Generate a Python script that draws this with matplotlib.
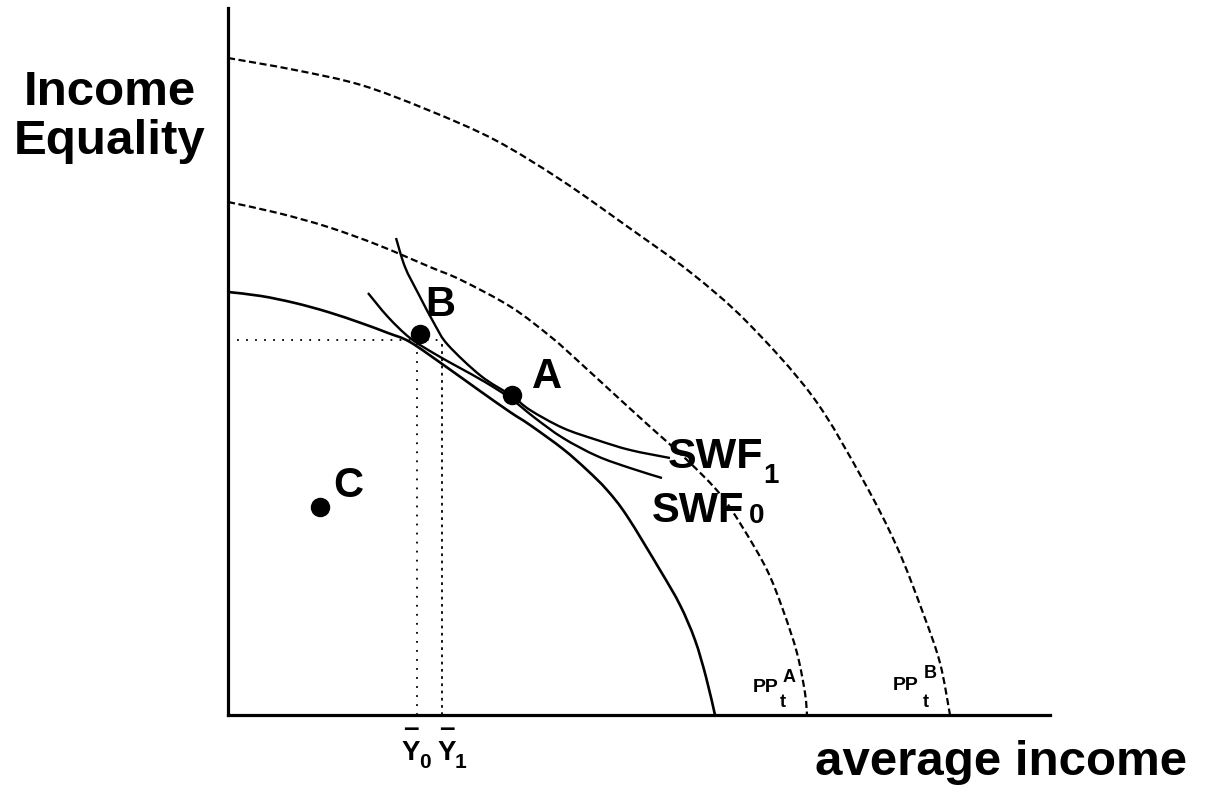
import numpy as np
import matplotlib
matplotlib.use('Agg')
import matplotlib.pyplot as plt
from matplotlib.path import Path
from matplotlib.patches import PathPatch

plt.rcParams['font.family'] = ['Liberation Sans', 'DejaVu Sans']
plt.rcParams['font.weight'] = 'bold'

# Curves (x = average income, y = income equality)
ppf_now_x = [0, 0.33, 0.67, 1.00, 1.33, 1.60, 1.82, 2.17, 2.52, 2.82, 3.02, 3.35, 3.59, 3.79, 3.99, 4.32, 4.52, 4.67, 4.78, 4.87]
ppf_now_y = [4.23, 4.19, 4.12, 4.03, 3.92, 3.82, 3.73, 3.49, 3.24, 3.03, 2.90, 2.66, 2.45, 2.25, 1.99, 1.45, 1.10, 0.75, 0.38, 0.0]

ppf_a_x = [0, 0.50, 1.00, 1.50, 2.02, 2.33, 2.83, 3.23, 3.49, 3.85, 4.19, 4.59, 4.92, 5.15, 5.39, 5.55, 5.69, 5.77, 5.79]
ppf_a_y = [5.13, 5.02, 4.88, 4.70, 4.48, 4.35, 4.08, 3.78, 3.55, 3.22, 2.91, 2.55, 2.21, 1.87, 1.45, 1.05, 0.62, 0.22, 0.0]

ppf_b_x = [0, 0.67, 1.33, 2.00, 2.67, 3.33, 4.00, 4.62, 5.19, 5.85, 6.35, 6.69, 6.95, 7.12, 7.22]
ppf_b_y = [6.57, 6.45, 6.30, 6.05, 5.75, 5.35, 4.88, 4.43, 3.93, 3.18, 2.35, 1.68, 1.02, 0.52, 0.0]

swf1_x = [1.68, 1.77, 1.90, 2.07, 2.20, 2.53, 2.84, 3.02, 3.35, 3.69, 4.02, 4.42]
swf1_y = [4.77, 4.48, 4.22, 3.90, 3.70, 3.39, 3.19, 3.05, 2.87, 2.75, 2.65, 2.57]

swf0_x = [1.40, 1.60, 1.82, 2.07, 2.32, 2.57, 2.82, 3.07, 3.35, 3.69, 4.02, 4.34]
swf0_y = [4.22, 3.98, 3.77, 3.61, 3.47, 3.33, 3.17, 2.97, 2.77, 2.59, 2.47, 2.37]

# Points
pt_names = ['B', 'A', 'C']
pt_x = [1.92, 2.84, 0.92]
pt_y = [3.81, 3.20, 2.08]

# Income levels and equality level at B
y0_income = 1.89
y1_income = 2.14
eq_level = 3.75


def smooth_curve(ax, xs, ys, **kw):
    # draw the read points as one smooth stroke (Catmull-Rom as Bezier)
    p = np.column_stack([xs, ys])
    p = np.vstack([p[0], p, p[-1]])
    verts = [p[1]]
    codes = [Path.MOVETO]
    for i in range(1, len(p) - 2):
        c1 = p[i] + (p[i + 1] - p[i - 1]) / 6
        c2 = p[i + 1] - (p[i + 2] - p[i]) / 6
        verts += [c1, c2, p[i + 1]]
        codes += [Path.CURVE4] * 3
    ax.add_patch(PathPatch(Path(verts, codes), fill=False, edgecolor='black', **kw))


fig = plt.figure(figsize=(12.08, 7.95), dpi=100)
ax = fig.add_axes([228 / 1208, 80 / 795, 822 / 1208, 707 / 795])
ax.set_xlim(0, 8.22)
ax.set_ylim(0, 7.07)
for s in ['top', 'right']:
    ax.spines[s].set_visible(False)
for s in ['left', 'bottom']:
    ax.spines[s].set_linewidth(2.3)
ax.set_xticks([])
ax.set_yticks([])

dash = (0, (3.2, 1.6))
smooth_curve(ax, ppf_now_x, ppf_now_y, lw=1.9)
smooth_curve(ax, ppf_a_x, ppf_a_y, lw=1.6, linestyle=dash)
smooth_curve(ax, ppf_b_x, ppf_b_y, lw=1.6, linestyle=dash)
smooth_curve(ax, swf1_x, swf1_y, lw=1.7)
smooth_curve(ax, swf0_x, swf0_y, lw=1.7)

# dotted guides
ax.plot([0, y1_income], [eq_level, eq_level], color='black', lw=1.3, linestyle=(0, (1, 4)))
ax.plot([y0_income, y0_income], [0, eq_level], color='black', lw=1.3, linestyle=(0, (1, 4)))
ax.plot([y1_income, y1_income], [0, eq_level], color='black', lw=1.3, linestyle=(0, (1.5, 2.5)))

ax.plot(pt_x, pt_y, 'o', color='black', markersize=13, zorder=5)

# point labels
ax.text(2.12, 4.10, 'B', fontsize=30, ha='center', va='center')
ax.text(3.19, 3.38, 'A', fontsize=30, ha='center', va='center')
ax.text(1.20, 2.29, 'C', fontsize=30, ha='center', va='center')

ax.text(4.40, 2.47, 'SWF', fontsize=31, ha='left', va='baseline')
ax.text(5.43, 2.39, '1', fontsize=20, ha='center', va='center')
ax.text(4.24, 1.93, 'SWF', fontsize=30, ha='left', va='baseline')
ax.text(5.29, 1.99, '0', fontsize=20, ha='center', va='center')

ax.text(5.25, 0.23, 'PP', fontsize=14, ha='left', va='baseline')
ax.text(5.55, 0.33, 'A', fontsize=13, ha='left', va='baseline')
ax.text(5.52, 0.08, 't', fontsize=13, ha='left', va='baseline')
ax.text(6.65, 0.25, 'PP', fontsize=14, ha='left', va='baseline')
ax.text(6.96, 0.37, 'B', fontsize=13, ha='left', va='baseline')
ax.text(6.95, 0.08, 't', fontsize=13, ha='left', va='baseline')

# Y-bar labels under the axis
ybar_labels = [(1.83, 1.97, '0'), (2.19, 2.33, '1')]
for xc, xs, sub in ybar_labels:
    ax.text(xc, -0.45, 'Y', fontsize=20, ha='center', va='baseline', clip_on=False)
    ax.text(xc, -0.14, '\u2013', fontsize=20, ha='center', va='center', clip_on=False)
    ax.text(xs, -0.53, sub, fontsize=15, ha='center', va='baseline', clip_on=False)

ax.text(-1.18, 5.98, 'Income\nEquality', fontsize=35.5, ha='center', va='center',
        linespacing=1.1, clip_on=False)
ax.text(5.87, -0.60, 'average income', fontsize=35.5, ha='left', va='baseline', clip_on=False)

fig.savefig('out.png', dpi=100)
